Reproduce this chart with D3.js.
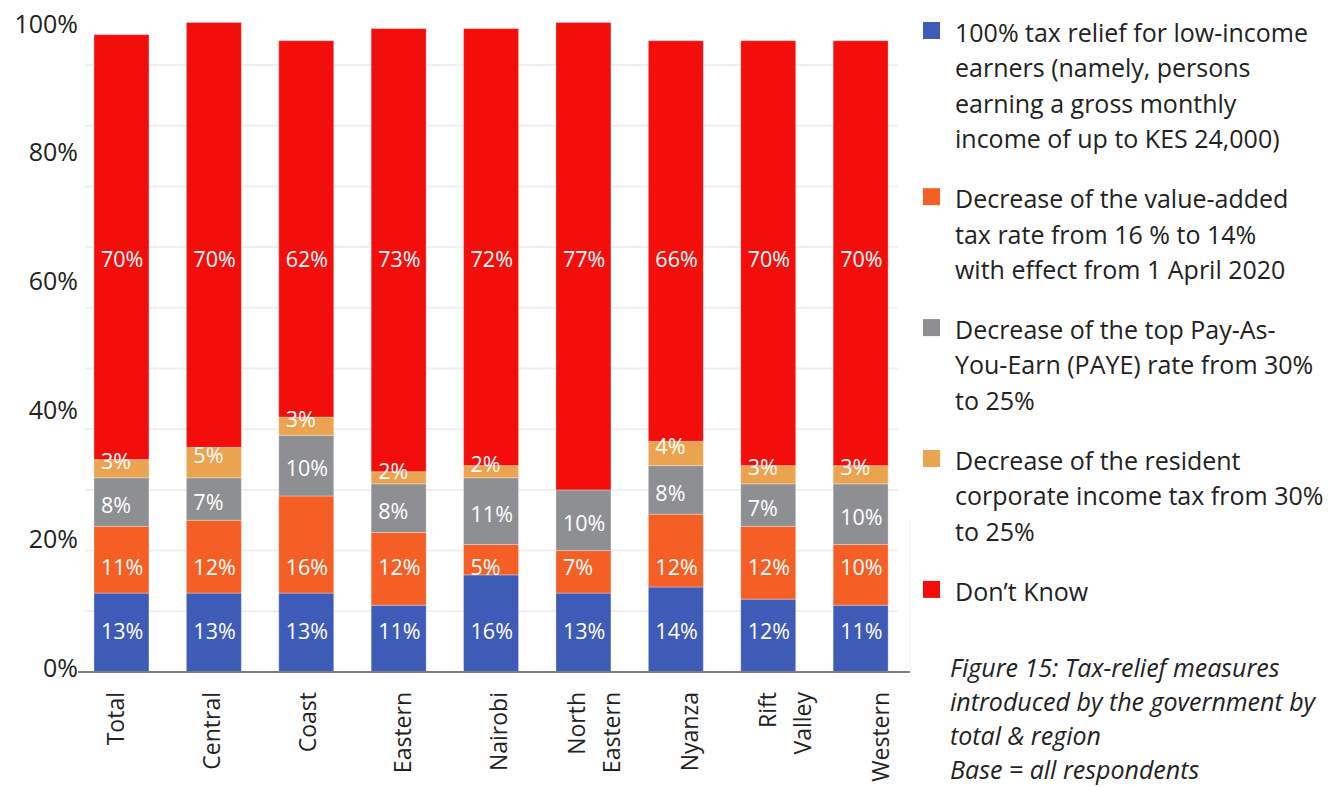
<!DOCTYPE html>
<html>
<head>
<meta charset="utf-8">
<script src="https://cdn.jsdelivr.net/npm/d3@7"></script>
<style>
  html, body { margin: 0; padding: 0; background: #ffffff; }
  svg { display: block; }
  text { font-family: "Open Sans", "Noto Sans", sans-serif; }
</style>
</head>
<body>
<svg id="chart" width="1328" height="787"></svg>
<script>
// Regions shown on the x axis (line breaks for the rotated labels)
const categories = ["Total", "Central", "Coast", "Eastern", "Nairobi", "North Eastern", "Nyanza", "Rift Valley", "Western"];
const categoryLines = [["Total"], ["Central"], ["Coast"], ["Eastern"], ["Nairobi"], ["North", "Eastern"], ["Nyanza"], ["Rift", "Valley"], ["Western"]];

// Share of respondents (%) per measure, per region
const lowIncomeRelief   = [13, 13, 13, 11, 16, 13, 14, 12, 11];
const vatDecrease       = [11, 12, 16, 12, 5, 7, 12, 12, 10];
const payeDecrease      = [8, 7, 10, 8, 11, 10, 8, 7, 10];
const corporateDecrease = [3, 5, 3, 2, 2, 0, 4, 3, 3];
const dontKnow          = [70, 70, 62, 73, 72, 77, 66, 70, 70];

const seriesNames = [
  "100% tax relief for low-income earners (namely, persons earning a gross monthly income of up to KES 24,000)",
  "Decrease of the value-added tax rate from 16 % to 14% with effect from 1 April 2020",
  "Decrease of the top Pay-As-You-Earn (PAYE) rate from 30% to 25%",
  "Decrease of the resident corporate income tax from 30% to 25%",
  "Don\u2019t Know"
];
const legendLines = [
  ["100% tax relief for low-income", "earners (namely, persons", "earning a gross monthly", "income of up to KES 24,000)"],
  ["Decrease of the value-added", "tax rate from 16 % to 14%", "with effect from 1 April 2020"],
  ["Decrease of the top Pay-As-", "You-Earn (PAYE) rate from 30%", "to 25%"],
  ["Decrease of the resident", "corporate income tax from 30%", "to 25%"],
  ["Don\u2019t Know"]
];
const captionLines = ["Figure 15: Tax-relief measures", "introduced by the government by", "total & region", "Base = all respondents"];

const yTickValues = [0, 20, 40, 60, 80, 100];
const gridValues = [10, 20, 30, 40, 50, 60, 70, 80, 90, 100];

const colors = ["#3f5bb8", "#f55f26", "#8e8f93", "#eba350", "#f40e0b"];

// ---- build stacked data ----
const seriesValues = [lowIncomeRelief, vatDecrease, payeDecrease, corporateDecrease, dontKnow];
const rows = categories.map((c, i) => {
  const r = { category: c };
  seriesNames.forEach((s, k) => { r[s] = seriesValues[k][i]; });
  return r;
});
const stacked = d3.stack().keys(seriesNames)(rows);

// ---- layout ----
const svg = d3.select("#chart");
svg.append("rect").attr("width", 1328).attr("height", 787).attr("fill", "#ffffff");

const baseY = 672;
const y = d3.scaleLinear().domain([0, 100]).range([baseY, 65]);
// tick labels sit on their own evenly spaced ladder
const yLabel = d3.scaleLinear().domain([0, 100]).range([668, 24]);

const x = d3.scaleBand().domain(categories).range([75.5, 906.6]).paddingInner(0.405).paddingOuter(0.2);
const xLabel = d3.scalePoint().domain(categories).range([116, 881]);

// gridlines
svg.append("g").selectAll("line").data(gridValues).join("line")
  .attr("x1", 85).attr("x2", 898)
  .attr("y1", d => y(d)).attr("y2", d => y(d))
  .attr("stroke", "#efefef").attr("stroke-width", 2);

// faint frame edge on the right of the plot
svg.append("line").attr("x1", 910).attr("x2", 910).attr("y1", 520).attr("y2", baseY)
  .attr("stroke", "#f1f1f1").attr("stroke-width", 1);

// stacked bars
const layers = svg.append("g").selectAll("g").data(stacked).join("g")
  .attr("fill", (d, i) => colors[i]);
layers.selectAll("rect").data(d => d.filter(p => p[1] - p[0] > 0)).join("rect")
  .attr("x", d => x(d.data.category))
  .attr("width", x.bandwidth())
  .attr("y", d => y(d[1]))
  .attr("height", d => y(d[0]) - y(d[1]))
  .attr("stroke", "rgba(255,255,255,0.3)")
  .attr("stroke-width", 1);

// value labels: bottom and top series sit on a common level, the middle ones near their segment
const labelFont = 21.5;
const labelLevel = [6.75, 17.2, null, null, 68];
const labelShift = [0, 0, 3, -7, 0];
stacked.forEach((layer, k) => {
  svg.append("g").selectAll("text").data(layer.filter(p => p[1] - p[0] > 0)).join("text")
    .attr("x", d => x(d.data.category) + 7)
    .attr("y", d => {
      const cy = labelLevel[k] !== null ? y(labelLevel[k]) : (y(d[0]) + y(d[1])) / 2 + labelShift[k];
      return cy + labelFont * 0.36;
    })
    .attr("fill", "#ffffff")
    .attr("font-size", labelFont)
    .text(d => (d[1] - d[0]) + "%");
});

// x axis baseline
svg.append("line").attr("x1", 78).attr("x2", 910).attr("y1", baseY).attr("y2", baseY)
  .attr("stroke", "#7d7d7d").attr("stroke-width", 2);

// y tick labels
const yAxis = svg.append("g").attr("transform", "translate(78,0)")
  .call(d3.axisLeft(yLabel).tickValues(yTickValues).tickFormat(d => d + "%").tickSize(0).tickPadding(0));
yAxis.select(".domain").remove();
yAxis.selectAll("text").attr("font-size", 25).attr("fill", "#222").attr("font-family", "Open Sans, Noto Sans, sans-serif");

// category labels, rotated
const catFont = 23;
categories.forEach((c, i) => {
  const lines = categoryLines[i];
  lines.forEach((ln, j) => {
    const cx = xLabel(c) + (j - (lines.length - 1) / 2) * 35;
    svg.append("text")
      .attr("transform", `translate(${cx + catFont * 0.36},692) rotate(-90)`)
      .attr("text-anchor", "end")
      .attr("font-size", catFont)
      .attr("fill", "#222")
      .text(ln);
  });
});

// legend
const legendFont = 25;
const lineH = 35.3;
let by = 42;
const legend = svg.append("g");
legendLines.forEach((lines, k) => {
  legend.append("rect").attr("x", 923).attr("y", by - 20).attr("width", 17).attr("height", 17).attr("fill", colors[k]);
  lines.forEach((ln, j) => {
    legend.append("text").attr("x", 955).attr("y", by + j * lineH)
      .attr("font-size", legendFont).attr("fill", "#222").text(ln);
  });
  by += lines.length * lineH + 25;
});

// caption
captionLines.forEach((ln, j) => {
  svg.append("text").attr("x", 950).attr("y", 677 + j * 34)
    .attr("font-size", 25).attr("font-style", "italic").attr("fill", "#222").text(ln);
});
</script>
</body>
</html>
